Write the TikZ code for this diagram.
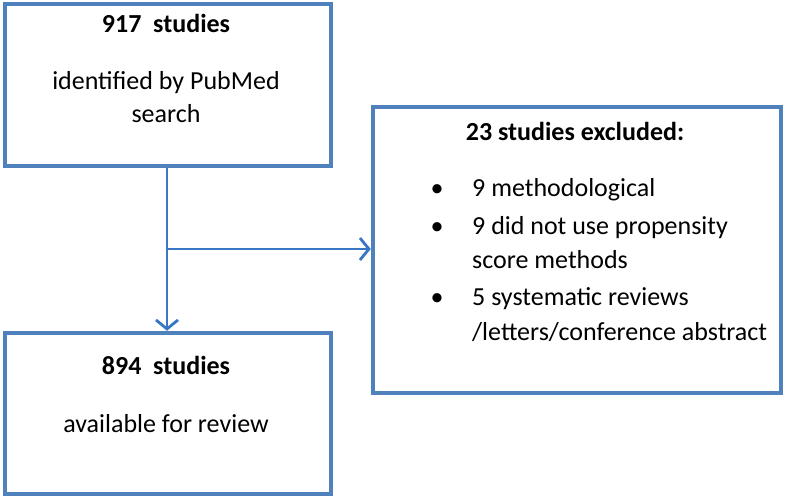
\documentclass[tikz,border=0pt]{standalone}
\usepackage{fontspec}
\setmainfont{Carlito}
\usetikzlibrary{arrows.meta}
\definecolor{boxblue}{HTML}{4F81BD}
\definecolor{arrblue}{HTML}{3A76C6}
\tikzset{
  box/.style={draw=boxblue, line width=4.5pt, fill=white, rectangle, inner sep=0pt},
  txt/.style={inner sep=0pt, text height=0.7em, text depth=0.2em, font=\fontsize{26}{33}\selectfont},
  ttl/.style={txt, font=\fontsize{26}{33}\selectfont\bfseries},
  conn/.style={draw=arrblue, line width=2.8pt},
  tip/.style={-{Straight Barb[length=9pt,width=22pt]}}
}
\begin{document}
\begin{tikzpicture}[x=1pt,y=-1pt]
\useasboundingbox (0,0) rectangle (787,500);
\node[box, minimum width=326pt, minimum height=162pt] (top) at (168,85) {};
\node[box, minimum width=326pt, minimum height=161pt] (bot) at (168,413.5) {};
\node[box, minimum width=408pt, minimum height=286pt] (right) at (577,250) {};
% top text
\node[ttl] (t1) at (166,30) {917\ \ studies};
\node[txt] (t2) at (166,87) {identified by PubMed};
\node[txt] (t3) at (166,120) {search};
% bottom text
\node[ttl] (b1) at (166,372) {894\ \ studies};
\node[txt] (b2) at (166,430) {available for review};
% right text
\node[ttl] (r0) at (575,138) {23 studies excluded:};
\node[txt] (bu1) at (437,194) {\textbullet};
\node[txt] (bu2) at (437,232) {\textbullet};
\node[txt] (bu3) at (437,303) {\textbullet};
\node[txt, anchor=west] (r1) at (472,194) {9 methodological};
\node[txt, anchor=west] (r2) at (472,232) {9 did not use propensity};
\node[txt, anchor=west] (r3) at (472,266) {score methods};
\node[txt, anchor=west] (r4) at (472,303) {5 systematic reviews};
\node[txt, anchor=west] (r5) at (472,338) {/letters/conference abstract};
% connectors
\coordinate (j) at (167,249);
\draw[conn, tip] (top.south -| j) -- (bot.north -| j);
\draw[conn, tip] (j) -- (j -| right.west);
\end{tikzpicture}
\end{document}
